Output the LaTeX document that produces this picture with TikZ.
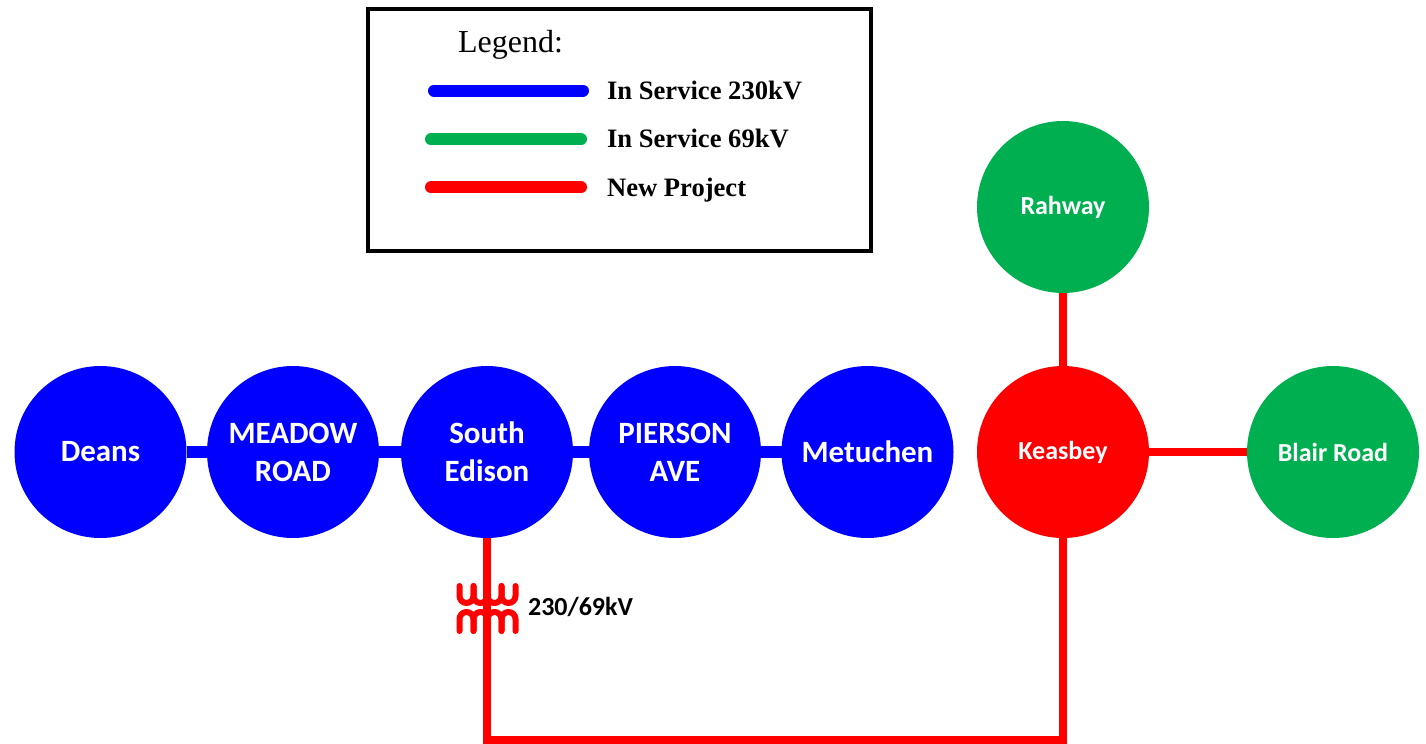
\documentclass[tikz,border=0pt]{standalone}
\usepackage{fontspec}
\setmainfont{Carlito}
\newfontfamily\legendfont{Liberation Serif}
\usetikzlibrary{positioning}
\definecolor{linegreen}{HTML}{00B050}

\begin{document}
\begin{tikzpicture}[x=0.5pt,y=0.5pt,
station/.style={circle,
  inner sep=0pt,outer sep=0pt,
  minimum size=86pt,
  align=center,text=white,
  font=\bfseries\fontsize{15.5}{19}\selectfont
},
smallstation/.style={station,
  font=\bfseries\fontsize{13}{16}\selectfont
},
hvline/.style={blue,line width=6pt},
newline/.style={red,line width=4pt},
coil/.style={red,line width=3pt,line cap=round,line join=round},
keyline/.style={line width=6pt,line cap=round},
keytext/.style={anchor=base west,
  font=\legendfont\bfseries\fontsize{13.3}{15}\selectfont
}]
\useasboundingbox (0,0) rectangle (1426,-744);

% legend
\node (legend) [draw, line width=1.75pt, minimum width=251.5pt, minimum height=121pt] at (619.5,-130) {};
\node (legendtitle) [anchor=base west, font=\legendfont\fontsize{16}{19}\selectfont] at (451,-53) {Legend:};
\draw [keyline, blue] (434,-90.5) -- (583,-90.5);
\draw [keyline, linegreen] (431,-139.3) -- (581,-139.3);
\draw [keyline, red] (431,-187.3) -- (581,-187.3);
\node (key1) [keytext] at (600,-99) {In Service 230kV};
\node (key2) [keytext] at (600,-147) {In Service 69kV};
\node (key3) [keytext] at (600,-196) {New Project};

% stations
\node (deans) [station, fill=blue] at (100.5,-452) {Deans};

\node (meadow) [station, fill=blue, right=10.25pt of deans] {MEADOW\\ROAD};

\node (sedison) [station, fill=blue, right=11pt of meadow] {South\\Edison};

\node (pierson) [station, fill=blue, right=8pt of sedison] {PIERSON\\AVE};

\node (metuchen) [station, fill=blue, right=10.25pt of pierson] {Metuchen};

\node (keasbey) [smallstation, fill=red, right=11.75pt of metuchen] {Keasbey};

\node (rahway) [smallstation, fill=linegreen, above=36.5pt of keasbey] {Rahway};

\node (blair) [smallstation, fill=linegreen, right=49pt of keasbey] {Blair Road};

\draw [hvline] (deans) to (meadow);
\draw [hvline] (meadow) to (sedison);
\draw [hvline] (sedison) to (pierson);
\draw [hvline] (pierson) to (metuchen);

\draw [newline] (keasbey) to (rahway);
\draw [newline] (keasbey) to (blair);

% new 69kV circuit with transformer
\coordinate (bend) at (sedison |- 0,-740);
\draw [newline] (sedison) -- (bend) -| (keasbey);

\foreach \i in {0,...,3} {
  \draw [coil] (459.5+14*\i,-586) -- ++(0,-10)
    arc[start angle=180, end angle=360, radius=7] -- ++(0,10);
  \draw [coil] (459.5+14*\i,-631) -- ++(0,12)
    arc[start angle=180, end angle=0, radius=7] -- ++(0,-12);
}
\node (ratio) [anchor=west, font=\bfseries\fontsize{13}{15}\selectfont] at (521,-607) {230/69kV};
\end{tikzpicture}
\end{document}
